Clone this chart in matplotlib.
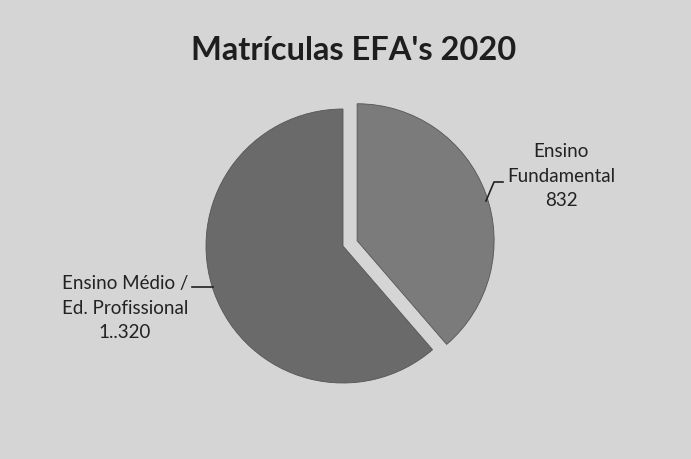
import matplotlib.pyplot as plt

categorias = ["Ensino\nFundamental", "Ensino Médio /\nEd. Profissional"]
valores = [832, 1320]
rotulos_valor = ["832", "1..320"]
cores = ["#7b7b7b", "#6a6a6a"]

plt.rcParams['font.family'] = ['Lato', 'DejaVu Sans']

fig = plt.figure(figsize=(6.91, 4.60), dpi=100, facecolor="#d5d5d5")
ax = fig.add_axes([0, 0, 1, 1])
ax.set_facecolor("#d5d5d5")

raio = 137
wedges, _ = ax.pie(valores, colors=cores, startangle=90, counterclock=False,
                   explode=[0.11 * raio, 0], center=(343, 213), radius=raio,
                   wedgeprops=dict(linewidth=0.6, edgecolor="#555555"))
ax.set_xlim(0, 691)
ax.set_ylim(0, 460)
ax.set_aspect("equal")
ax.axis("off")

ax.text(354, 409, "Matrículas EFA's 2020", ha="center", va="center",
        fontsize=23.5, fontweight="bold", color="#1e1e1e")

ax.text(561, 284, categorias[0] + "\n" + rotulos_valor[0], ha="center", va="center",
        fontsize=13.5, color="#222222", linespacing=1.55)
ax.text(125, 152, categorias[1] + "\n" + rotulos_valor[1], ha="center", va="center",
        fontsize=13.5, color="#222222", linespacing=1.55)

# linhas de chamada
ax.plot([486, 494, 503], [258, 277, 277], color="#222222", lw=1.2)
ax.plot([192, 213], [172, 172], color="#222222", lw=1.2)

fig.savefig("out.png", dpi=100, facecolor=fig.get_facecolor())
